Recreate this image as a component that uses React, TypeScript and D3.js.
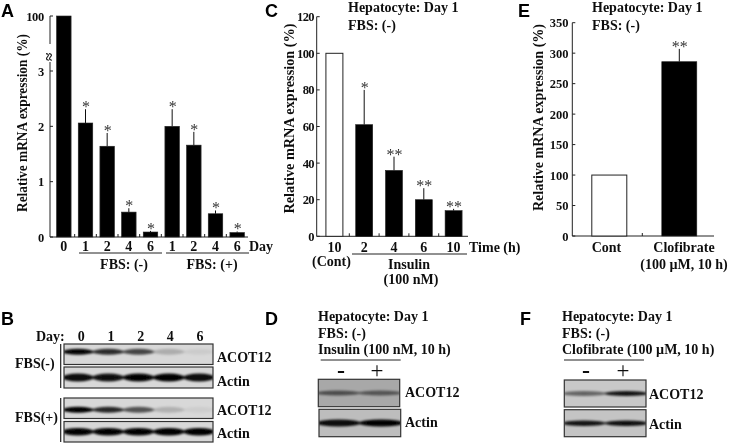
import React, { useId } from 'react';
import * as d3 from 'd3';

// panel A
const daysA = ['0', '1', '2', '4', '6', '1', '2', '4', '6'];
const valuesA = [100, 2.06, 1.64, 0.45, 0.09, 2.0, 1.66, 0.42, 0.08];
const errTopA = [100, 2.31, 1.88, 0.52, 0.11, 2.31, 1.9, 0.48, 0.1];
const starsA = ['', '*', '*', '*', '*', '*', '*', '*', '*'];
const ticksA = [0, 1, 2, 3, 100];

// panel C
const timesC = ['10', '2', '4', '6', '10'];
const valuesC = [100, 61, 36, 20, 14];
const errTopC = [100, 80, 43.5, 26.3, 15];
const starsC = ['', '*', '**', '**', '**'];
const ticksC = [0, 20, 40, 60, 80, 100, 120];

// panel E
const groupsE = ['Cont', 'Clofibrate'];
const valuesE = [100, 286];
const errTopE = [100, 307];
const starsE = ['', '**'];
const ticksE = [0, 50, 100, 150, 200, 250, 300, 350];

// blot band strengths, one per lane
const lanesB = ['0', '1', '2', '4', '6'];
const acotMinus = [0.98, 0.8, 0.68, 0.2, 0.06];
const actinMinus = [0.95, 0.92, 0.98, 1, 0.95];
const acotPlus = [1, 0.82, 0.62, 0.18, 0.05];
const actinPlus = [0.98, 0.98, 0.98, 1, 1];
const lanesD = ['-', '+'];
const acotD = [0.55, 0.5];
const actinD = [0.95, 1];
const acotF = [0.5, 0.9];
const actinF = [0.9, 0.92];

const SERIF = '"Liberation Serif", serif';
const SANS = '"Liberation Sans", sans-serif';

const T = ({ x, y, children, size = 14, anchor = 'start', rotate, spacing, weight = 'bold', fit }: any) => (
  <text
    x={rotate ? 0 : x}
    y={rotate ? 0 : y}
    transform={rotate ? `translate(${x},${y}) rotate(${rotate})` : undefined}
    fontFamily={SERIF}
    fontWeight={weight}
    fontSize={size}
    textAnchor={anchor}
    letterSpacing={spacing}
    textLength={fit}
    lengthAdjust={fit ? 'spacingAndGlyphs' : undefined}
    fill="#111"
  >
    {children}
  </text>
);

const Letter = ({ x, y, children }: any) => (
  <text x={x} y={y} fontFamily={SANS} fontWeight="bold" fontSize={18} fill="#000">
    {children}
  </text>
);

const Bars = ({ x, y, values, errTop, stars, open = [] }: any) => (
  <g>
    {values.map((v: number, i: number) => {
      const cx = x(String(i)) + x.bandwidth() / 2;
      return (
        <g key={i}>
          {errTop[i] > v && <line x1={cx} x2={cx} y1={y(v)} y2={y(errTop[i])} stroke="#111" strokeWidth={1} />}
          <rect
            x={x(String(i))}
            y={y(v)}
            width={x.bandwidth()}
            height={y(0) - y(v)}
            fill={open.includes(i) ? '#fff' : '#000'}
            stroke="#222"
            strokeWidth={open.includes(i) ? 1 : 0.6}
          />
          {stars[i] && (
            <text x={cx + 0.5} y={y(errTop[i]) + 3} textAnchor="middle" fontFamily={SERIF} fontSize={16} fill="#333">
              {stars[i]}
            </text>
          )}
        </g>
      );
    })}
  </g>
);

const Blot = ({ x0, x1, y0, y1, lanes, strength, bandH, fill = '#d8d8d8', dy = 0 }: any) => {
  const id = useId();
  const x = d3.scaleBand<string>().domain(lanes).range([x0, x1]).paddingInner(0.08);
  const cy = (y0 + y1) / 2 + dy;
  return (
    <g>
      <clipPath id={id}>
        <rect x={x0} y={y0} width={x1 - x0} height={y1 - y0} />
      </clipPath>
      <rect x={x0} y={y0} width={x1 - x0} height={y1 - y0} fill={fill} />
      <g clipPath={`url(#${id})`}>
        <g filter="url(#blur)">
          {lanes.map((l: string, i: number) => (
            <ellipse
              key={l}
              cx={x(l)! + x.bandwidth() / 2}
              cy={cy}
              rx={x.bandwidth() * 0.56}
              ry={bandH}
              fill="#000"
              opacity={strength[i]}
            />
          ))}
        </g>
      </g>
      <rect x={x0} y={y0} width={x1 - x0} height={y1 - y0} fill="none" stroke="#333" strokeWidth={1.2} />
    </g>
  );
};

export default function App() {
  // panel A: y scale is broken between 3 and 100
  const yA = d3.scaleLinear().domain([0, 3, 100]).range([237, 71, 16]);
  const xA = d3.scaleBand<string>().domain(daysA.map((_, i) => String(i))).range([53, 248]).paddingInner(0.33).paddingOuter(0.165);

  const yC = d3.scaleLinear().domain([0, 120]).range([236.3, 16.7]);
  const xC = d3.scaleBand<string>().domain(timesC.map((_, i) => String(i))).range([319.5, 468.5]).paddingInner(0.43).paddingOuter(0.215);

  const yE = d3.scaleLinear().domain([0, 350]).range([236, 22.7]);
  const xE = d3.scaleBand<string>().domain(groupsE.map((_, i) => String(i))).range([574.3, 714.3]).paddingInner(0.5).paddingOuter(0.25);

  const lanesX = d3.scalePoint<string>().domain(lanesB).range([81.3, 200]);

  return (
    <svg width={729} height={444} style={{ position: 'absolute', left: 0, top: 0, background: '#fff' }}>
      <defs>
        <filter id="blur" x="-10%" y="-80%" width="120%" height="260%">
          <feGaussianBlur stdDeviation="1.6 1" />
        </filter>
        <filter id="soft" x="0" y="0" width="100%" height="100%" filterUnits="userSpaceOnUse">
          <feGaussianBlur stdDeviation="0.35" />
        </filter>
      </defs>
      <g filter="url(#soft)">
        <rect width={729} height={444} fill="#fff" />

        {/* A */}
        <Letter x={1} y={16.5}>A</Letter>
        <T x={26.5} y={212} rotate={-90} size={15} fit={178}>Relative mRNA expression (%)</T>
        <g stroke="#222" strokeWidth={1} fill="none">
          <path d={`M50,${yA(100)}V44`} />
          <path d={`M50,62V${yA(0)}H248`} />
          {ticksA.map(t => (
            <line key={t} x1={50} x2={53} y1={yA(t)} y2={yA(t)} />
          ))}
          {daysA.slice(1).map((_, i) => {
            const tx = 53 + xA.step() * (i + 1);
            return <line key={i} x1={tx} x2={tx} y1={237} y2={234} />;
          })}
        </g>
        <text transform="translate(50,57) rotate(-90)" y={4} textAnchor="middle" fontFamily={SERIF} fontWeight="bold" fontSize={15}>≈</text>
        {ticksA.map(t => (
          <T key={t} x={44} y={yA(t) + 4.5} anchor="end" size={12.5} spacing={-0.3}>{t}</T>
        ))}
        <Bars x={xA} y={yA} values={valuesA} errTop={errTopA} stars={starsA} />
        {daysA.map((d, i) => (
          <T key={i} x={xA(String(i))! + xA.bandwidth() / 2} y={251} anchor="middle">{d}</T>
        ))}
        <T x={249} y={251}>Day</T>
        <line x1={79} x2={162} y1={253} y2={253} stroke="#222" />
        <line x1={166} x2={249} y1={253} y2={253} stroke="#222" />
        <T x={124} y={269} anchor="middle">FBS: (-)</T>
        <T x={212} y={269} anchor="middle">FBS: (+)</T>

        {/* C */}
        <Letter x={265} y={16.5}>C</Letter>
        <T x={348} y={12}>Hepatocyte: Day 1</T>
        <T x={348} y={30}>FBS: (-)</T>
        <T x={294} y={213.5} rotate={-90} size={15} fit={190}>Relative mRNA expression (%)</T>
        <g stroke="#222" strokeWidth={1} fill="none">
          <path d={`M316.7,${yC(120)}V${yC(0)}H468`} />
          {ticksC.map(t => (
            <line key={t} x1={316.7} x2={319.7} y1={yC(t)} y2={yC(t)} />
          ))}
          {timesC.slice(1).map((_, i) => {
            const tx = 319.5 + xC.step() * (i + 1);
            return <line key={i} x1={tx} x2={tx} y1={236.3} y2={233.3} />;
          })}
        </g>
        {ticksC.map(t => (
          <T key={t} x={314} y={yC(t) + 4.5} anchor="end" size={12.5} spacing={-0.6}>{t}</T>
        ))}
        <Bars x={xC} y={yC} values={valuesC} errTop={errTopC} stars={starsC} open={[0]} />
        {timesC.map((d, i) => (
          <T key={i} x={xC(String(i))! + xC.bandwidth() / 2} y={252} anchor="middle">{d}</T>
        ))}
        <T x={469} y={251.5}>Time (h)</T>
        <T x={331.5} y={266} anchor="middle">(Cont)</T>
        <line x1={352} x2={467} y1={254} y2={254} stroke="#222" />
        <T x={409} y={269} anchor="middle">Insulin</T>
        <T x={411} y={284} anchor="middle">(100 nM)</T>

        {/* E */}
        <Letter x={518} y={16.5}>E</Letter>
        <T x={592} y={12}>Hepatocyte: Day 1</T>
        <T x={592} y={30}>FBS: (-)</T>
        <T x={543} y={211} rotate={-90} size={15} fit={187}>Relative mRNA expression (%)</T>
        <g stroke="#222" strokeWidth={1} fill="none">
          <path d={`M572.3,${yE(350)}V${yE(0)}H714`} />
          {ticksE.map(t => (
            <line key={t} x1={572.3} x2={575.3} y1={yE(t)} y2={yE(t)} />
          ))}
          <line x1={642.3} x2={642.3} y1={236} y2={233} />
        </g>
        {ticksE.map(t => (
          <T key={t} x={568.5} y={yE(t) + 4.5} anchor="end" size={12.5}>{t}</T>
        ))}
        <Bars x={xE} y={yE} values={valuesE} errTop={errTopE} stars={starsE} open={[0]} />
        <T x={606.5} y={252} anchor="middle">{groupsE[0]}</T>
        <T x={684} y={252} anchor="middle">{groupsE[1]}</T>
        <T x={684} y={269} anchor="middle">(100 µM, 10 h)</T>

        {/* B */}
        <Letter x={1} y={325}>B</Letter>
        <T x={36} y={341}>Day:</T>
        {lanesB.map(l => (
          <T key={l} x={lanesX(l)} y={341} anchor="middle">{l}</T>
        ))}
        <path d="M60.7,344V388M60.7,398V442" stroke="#222" strokeWidth={1.2} />
        <T x={15} y={368}>FBS(-)</T>
        <T x={15} y={422}>FBS(+)</T>
        <Blot x0={64} x1={213} y0={344} y1={364.5} lanes={lanesB} strength={acotMinus} bandH={3} dy={-2.5} />
        <Blot x0={64} x1={213} y0={367} y1={388} lanes={lanesB} strength={actinMinus} bandH={4} />
        <Blot x0={64} x1={213} y0={398} y1={418.5} lanes={lanesB} strength={acotPlus} bandH={3} dy={1.5} />
        <Blot x0={64} x1={213} y0={421.5} y1={442} lanes={lanesB} strength={actinPlus} bandH={3.8} />
        <T x={217} y={362}>ACOT12</T>
        <T x={217} y={386}>Actin</T>
        <T x={217} y={415}>ACOT12</T>
        <T x={217} y={438}>Actin</T>

        {/* D */}
        <Letter x={265} y={325}>D</Letter>
        <T x={318} y={321}>Hepatocyte: Day 1</T>
        <T x={318} y={338}>FBS: (-)</T>
        <T x={318} y={354}>Insulin (100 nM, 10 h)</T>
        <line x1={320.7} x2={400.7} y1={360} y2={360} stroke="#222" />
        <T x={341} y={378} anchor="middle" size={24}>-</T>
        <T x={377} y={378} anchor="middle" size={23} weight="normal">+</T>
        <Blot x0={318.3} x1={399.7} y0={379.3} y1={406.7} lanes={lanesD} strength={acotD} bandH={2.6} fill="#a8a8a8" />
        <Blot x0={319} x1={400.7} y0={409.3} y1={436.7} lanes={lanesD} strength={actinD} bandH={3.6} fill="#bdbdbd" />
        <T x={405} y={397}>ACOT12</T>
        <T x={405} y={427}>Actin</T>

        {/* F */}
        <Letter x={520} y={325}>F</Letter>
        <T x={562} y={321}>Hepatocyte: Day 1</T>
        <T x={562} y={338}>FBS: (-)</T>
        <T x={562} y={354}>Clofibrate (100 µM, 10 h)</T>
        <line x1={564} x2={644} y1={360} y2={360} stroke="#222" />
        <T x={586} y={378} anchor="middle" size={24}>-</T>
        <T x={623} y={378} anchor="middle" size={23} weight="normal">+</T>
        <Blot x0={564.3} x1={646} y0={380} y1={407} lanes={lanesD} strength={acotF} bandH={2.6} fill="#c8c8c8" />
        <Blot x0={564.3} x1={646} y0={409.7} y1={436.7} lanes={lanesD} strength={actinF} bandH={2.8} fill="#c4c4c4" />
        <T x={649} y={399}>ACOT12</T>
        <T x={649} y={429}>Actin</T>
      </g>
    </svg>
  );
}
